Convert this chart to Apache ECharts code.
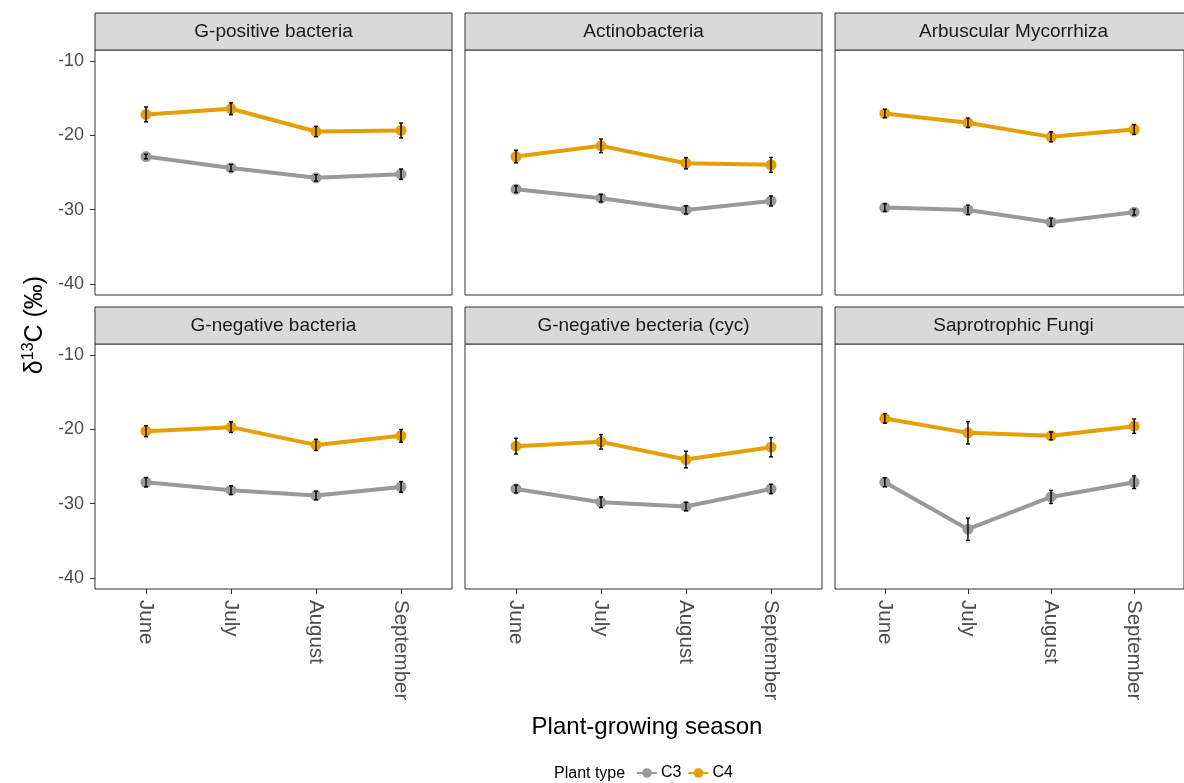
<!DOCTYPE html>
<html>
<head>
<meta charset="utf-8">
<style>
  html, body { margin: 0; padding: 0; background: #fff; }
  #chart { width: 1184px; height: 783px; }
</style>
<script src="https://cdn.jsdelivr.net/npm/echarts@6/dist/echarts.min.js"></script>
</head>
<body>
<div id="chart"></div>
<script>
// Sampling months (x categories)
const months = ['June', 'July', 'August', 'September'];
// Panel titles (microbial groups)
const panels = ['G-positive bacteria', 'Actinobacteria', 'Arbuscular Mycorrhiza',
                'G-negative bacteria', 'G-negative becteria (cyc)', 'Saprotrophic Fungi'];
const yTicks = [-40, -30, -20, -10];

// Mean δ13C per panel and month, C3 plants
const c3Mean = [
  [-22.85, -24.38, -25.72, -25.23],
  [-27.25, -28.46, -30.04, -28.83],
  [-29.72, -30.04, -31.70, -30.35],
  [-27.12, -28.19, -28.91, -27.75],
  [-28.02, -29.81, -30.39, -28.02],
  [-27.12, -33.45, -29.10, -27.12]
];
// Standard errors, C3
const c3Err = [
  [0.30, 0.47, 0.43, 0.70],
  [0.45, 0.50, 0.54, 0.67],
  [0.50, 0.63, 0.54, 0.38],
  [0.63, 0.58, 0.58, 0.72],
  [0.52, 0.72, 0.56, 0.63],
  [0.60, 1.50, 0.88, 0.85]
];
// Mean δ13C per panel and month, C4 plants
const c4Mean = [
  [-17.18, -16.42, -19.48, -19.34],
  [-22.85, -21.41, -23.75, -23.97],
  [-17.05, -18.31, -20.20, -19.21],
  [-20.24, -19.70, -22.09, -20.87],
  [-22.26, -21.68, -24.06, -22.40],
  [-18.53, -20.47, -20.87, -19.57]
];
// Standard errors, C4
const c4Err = [
  [1.00, 0.80, 0.70, 1.00],
  [0.85, 0.92, 0.76, 1.00],
  [0.56, 0.63, 0.67, 0.67],
  [0.74, 0.72, 0.76, 0.85],
  [1.06, 0.97, 1.12, 1.30],
  [0.63, 1.50, 0.52, 0.97]
];

const COL_C3 = '#999999';
const COL_C4 = '#E69F00';
const FONT = '"Liberation Sans", Arial, sans-serif';

const chart = echarts.init(document.getElementById('chart'), null, { renderer: 'canvas' });

const colLeft = [95, 465, 835];
const rowTop = [50, 344];
const panelW = 357, panelH = 245, stripH = 37;

const grids = [], xAxes = [], yAxes = [], series = [], graphics = [];

// vertical error bar with short caps
function errRender(params, api) {
  const x = api.value(0);
  const lo = api.coord([x, api.value(1)]);
  const hi = api.coord([x, api.value(2)]);
  const cap = 2;
  const st = { stroke: '#000', lineWidth: 1.4 };
  return {
    type: 'group',
    children: [
      { type: 'line', shape: { x1: lo[0], y1: lo[1], x2: hi[0], y2: hi[1] }, style: st },
      { type: 'line', shape: { x1: lo[0] - cap, y1: lo[1], x2: lo[0] + cap, y2: lo[1] }, style: st },
      { type: 'line', shape: { x1: hi[0] - cap, y1: hi[1], x2: hi[0] + cap, y2: hi[1] }, style: st }
    ]
  };
}

panels.forEach((name, i) => {
  const r = Math.floor(i / 3), c = i % 3;
  const left = colLeft[c], top = rowTop[r];
  grids.push({
    left: left, top: top, width: panelW, height: panelH,
    show: true, borderColor: '#333333', borderWidth: 1, backgroundColor: '#fff',
    containLabel: false
  });
  const bottomRow = r === 1;
  xAxes.push({
    type: 'value', gridIndex: i, min: -0.6, max: 3.6, position: 'bottom',
    axisLine: { show: false, onZero: false },
    splitLine: { show: false },
    axisTick: { show: bottomRow, customValues: [0, 1, 2, 3], length: 5,
                lineStyle: { color: '#333333', width: 1 } },
    axisLabel: { show: bottomRow, customValues: [0, 1, 2, 3], rotate: -90, margin: 11,
                 formatter: v => months[Math.round(v)] || '',
                 color: '#4d4d4d', fontSize: 20.5, fontFamily: FONT }
  });
  yAxes.push({
    type: 'value', gridIndex: i, min: -41.5, max: -8.5, position: 'left',
    axisLine: { show: false, onZero: false },
    splitLine: { show: false },
    axisTick: { show: c === 0, customValues: yTicks, length: 5,
                lineStyle: { color: '#333333', width: 1 } },
    axisLabel: { show: c === 0, customValues: yTicks, margin: 11,
                 color: '#4d4d4d', fontSize: 18, fontFamily: FONT }
  });

  const groups = [
    { nm: 'C3', mean: c3Mean[i], err: c3Err[i], col: COL_C3 },
    { nm: 'C4', mean: c4Mean[i], err: c4Err[i], col: COL_C4 }
  ];
  groups.forEach(g => {
    series.push({
      name: g.nm, type: 'line', xAxisIndex: i, yAxisIndex: i,
      data: g.mean.map((v, k) => [k, v]),
      symbol: 'circle', symbolSize: 11, showSymbol: true,
      lineStyle: { color: g.col, width: 4 },
      itemStyle: { color: g.col },
      emphasis: { disabled: true }, animation: false, z: 2
    });
  });
  groups.forEach(g => {
    series.push({
      type: 'custom', xAxisIndex: i, yAxisIndex: i,
      renderItem: errRender,
      data: g.mean.map((v, k) => [k, v - g.err[k], v + g.err[k]]),
      animation: false, z: 3, silent: true
    });
  });

  // facet strip
  graphics.push({
    type: 'rect', shape: { x: left, y: top - stripH, width: panelW, height: stripH },
    style: { fill: '#d9d9d9', stroke: '#333333', lineWidth: 1 }, z: 10
  });
  graphics.push({
    type: 'text', x: left + panelW / 2, y: top - stripH / 2,
    style: { text: name, fill: '#1a1a1a', fontSize: 19, fontFamily: FONT,
             align: 'center', verticalAlign: 'middle' }, z: 11
  });
});

// axis titles
graphics.push({
  type: 'text', x: 35, y: 325, rotation: Math.PI / 2,
  style: {
    text: '{d|δ}{s|13}{d|C (‰)}',
    align: 'center', verticalAlign: 'middle',
    rich: {
      d: { fontSize: 25, fontFamily: FONT, fill: '#000', lineHeight: 30 },
      s: { fontSize: 16, fontFamily: FONT, fill: '#000', lineHeight: 30, padding: [0, 0, 13, 0] }
    }
  }, z: 11
});
graphics.push({
  type: 'text', x: 647, y: 727,
  style: { text: 'Plant-growing season', fontSize: 24, fontFamily: FONT, fill: '#000',
           align: 'center', verticalAlign: 'middle' }, z: 11
});
graphics.push({
  type: 'text', x: 554, y: 774,
  style: { text: 'Plant type', fontSize: 16, fontFamily: FONT, fill: '#000',
           align: 'left', verticalAlign: 'middle' }, z: 11
});

chart.setOption({
  animation: false,
  backgroundColor: '#ffffff',
  grid: grids,
  xAxis: xAxes,
  yAxis: yAxes,
  series: series,
  legend: {
    data: ['C3', 'C4'], left: 636, top: 765,
    itemWidth: 20, itemHeight: 12, itemGap: 6, padding: 0,
    textStyle: { fontSize: 16, fontFamily: FONT, color: '#000', padding: [0, 0, 0, -1] },
    selectedMode: false
  },
  graphic: graphics
});
</script>
</body>
</html>
